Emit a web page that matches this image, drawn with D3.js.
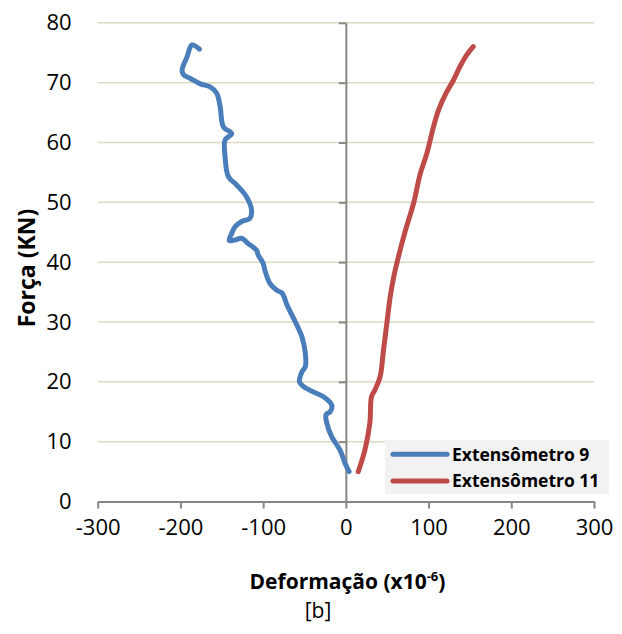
<!DOCTYPE html>
<html>
<head>
<meta charset="utf-8">
<script src="https://cdn.jsdelivr.net/npm/d3@7"></script>
<style>
  body { margin: 0; background: #fff; }
  text { font-family: "Open Sans", sans-serif; fill: #000; }
</style>
</head>
<body>
<div id="paper"></div>
<script>
// forca x deformacao, extensometros 9 e 11

let blue = "#4a7ebb";
let red = "#be4b48";

const series_names = ["Extensômetro 9", "Extensômetro 11"];

// extensometro 9: [deformacao, forca]
const ext9 = [
  [4, 5.0], [-1, 6.4], [-7, 8.6], [-17, 10.8], [-23, 13.1], [-24, 14.5],
  [-19, 15.0], [-17, 16.1], [-27, 17.5], [-39, 18.3], [-51, 19.2], [-56, 20.0],
  [-53, 21.7], [-49, 22.5], [-49, 24.8], [-53, 27.5], [-61, 30.0], [-71, 32.8],
  [-77, 34.8], [-83.5, 35.3], [-92, 36.5], [-98, 38.7], [-100, 39.8], [-106, 41.2],
  [-108, 42.0], [-118, 43.1], [-126, 44.0], [-134, 43.7], [-141, 43.6], [-138, 44.8],
  [-134, 45.9], [-126, 46.8], [-116, 47.3], [-114, 48.7], [-120, 50.9], [-132, 52.9],
  [-142, 54.3], [-146, 57.6], [-146, 60.4], [-138, 61.5], [-148, 62.6], [-152, 66.0],
  [-156, 68.2], [-164, 69.3], [-176, 69.8], [-188, 70.7], [-196, 71.3], [-198, 72.1],
  [-192, 74.3], [-186, 76.3], [-177, 75.6]
];

// extensometro 11
const ext11 = [
  [15, 5.0], [23, 8.6], [29, 13.1], [31, 17.5], [35, 18.6], [41.5, 20.9],
  [45.5, 25.3], [49.6, 29.8], [53.6, 34.2], [58, 37.6], [63.6, 40.9], [70, 44.3],
  [75.7, 47.0], [81.8, 49.8], [90, 54.8], [98, 58.2], [105, 62.1], [112, 65.4],
  [121, 68.2], [130, 70.4], [138, 72.7], [146, 74.6], [154, 76.0]
];

const x_ticks = [-300, -200, -100, 0, 100, 200, 300];
const y_ticks = [0, 10, 20, 30, 40, 50, 60, 70, 80];

const width = 622, height = 634;

const svg = d3.select("#paper")
  .append("svg")
  .attr("width", width)
  .attr("height", height);

const x = d3.scaleLinear().domain([-300, 300]).range([97.7, 594]);
const y = d3.scaleLinear().domain([0, 80]).range([501.5, 22.8]);

// gridlines
svg.append("g")
  .selectAll("line")
  .data(y_ticks.filter((d) => d > 0))
  .join("line")
  .attr("x1", x(-300))
  .attr("x2", x(300))
  .attr("y1", (d) => y(d))
  .attr("y2", (d) => y(d))
  .attr("stroke", "#ddd9c3")
  .attr("stroke-width", 1.5);

// y labels on the left
const yLabels = svg.append("g")
  .attr("transform", `translate(${x(-300)},0)`)
  .call(d3.axisLeft(y).tickValues(y_ticks).tickSize(0).tickPadding(26));
yLabels.select(".domain").remove();
yLabels.selectAll("text")
  .style("font-family", "'Open Sans', sans-serif")
  .style("font-size", "22px")
  .attr("fill", "#000");

// y axis at x = 0
const yAxis = svg.append("g")
  .attr("transform", `translate(${x(0)},0)`)
  .call(d3.axisLeft(y).tickValues(y_ticks).tickSize(7).tickSizeOuter(0).tickFormat(""));
yAxis.select(".domain").attr("stroke", "#868686").attr("stroke-width", 2);
yAxis.selectAll(".tick line").attr("stroke", "#868686").attr("stroke-width", 2);

// x axis at y = 0
const xAxis = svg.append("g")
  .attr("transform", `translate(0,${y(0)})`)
  .call(d3.axisBottom(x).tickValues(x_ticks).tickSize(7).tickSizeOuter(0)
    .tickPadding(11).tickFormat((d) => String(d)));
xAxis.select(".domain").attr("stroke", "#868686").attr("stroke-width", 2);
xAxis.selectAll(".tick line").attr("stroke", "#868686").attr("stroke-width", 2);
xAxis.selectAll("text")
  .style("font-family", "'Open Sans', sans-serif")
  .style("font-size", "22px")
  .attr("fill", "#000");

// curves
const line = d3.line()
  .x((d) => x(d[0]))
  .y((d) => y(d[1]))
  .curve(d3.curveCatmullRom.alpha(0.5));

svg.append("path")
  .datum(ext9)
  .attr("d", line)
  .attr("fill", "none")
  .attr("stroke", blue)
  .attr("stroke-width", 5)
  .attr("stroke-linecap", "round")
  .attr("stroke-linejoin", "round");

svg.append("path")
  .datum(ext11)
  .attr("d", line)
  .attr("fill", "none")
  .attr("stroke", red)
  .attr("stroke-width", 5)
  .attr("stroke-linecap", "round")
  .attr("stroke-linejoin", "round");

// legend
const legend = svg.append("g");
legend.append("rect")
  .attr("x", 385)
  .attr("y", 440)
  .attr("width", 224)
  .attr("height", 54)
  .attr("fill", "#f2f2f2");

const items = legend.selectAll("g.item")
  .data(series_names)
  .join("g")
  .attr("class", "item")
  .attr("transform", (d, i) => `translate(0,${454.3 + i * 26.7})`);

items.append("line")
  .attr("x1", 393)
  .attr("x2", 447)
  .attr("stroke", (d, i) => [blue, red][i])
  .attr("stroke-width", 5)
  .attr("stroke-linecap", "round");

items.append("text")
  .attr("x", 452)
  .attr("y", 6.3)
  .style("font-size", "17.5px")
  .style("font-weight", "bold")
  .text((d) => d);

// titles
const xTitle = svg.append("text")
  .attr("x", 347.5)
  .attr("y", 589)
  .attr("text-anchor", "middle")
  .style("font-size", "21px")
  .style("font-weight", "bold");
xTitle.append("tspan").text("Deformação (x10");
xTitle.append("tspan").attr("dy", -8).style("font-size", "13px").text("-6");
xTitle.append("tspan").attr("dy", 8).text(")");

svg.append("text")
  .attr("transform", "translate(35,268) rotate(-90)")
  .attr("text-anchor", "middle")
  .style("font-size", "23px")
  .style("font-weight", "bold")
  .text("Força (KN)");

svg.append("text")
  .attr("x", 318)
  .attr("y", 618)
  .attr("text-anchor", "middle")
  .style("font-size", "21px")
  .text("[b]");
</script>
</body>
</html>
